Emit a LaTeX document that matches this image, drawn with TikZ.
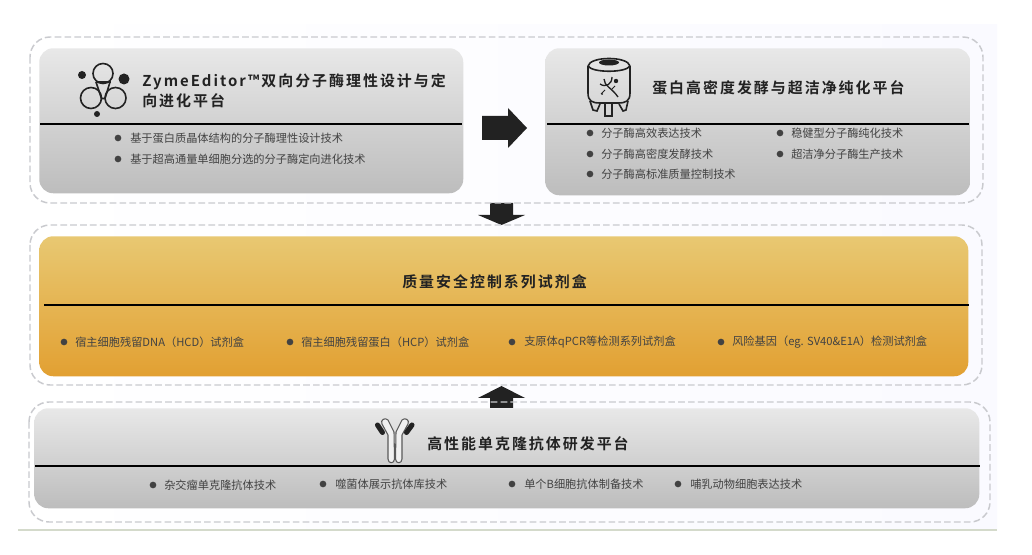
\documentclass[tikz,border=0pt]{standalone}
\usepackage{fontspec}
\setmainfont{Noto Sans CJK SC}
\newfontfamily\titlefont[LetterSpace=13.5]{Noto Sans CJK SC Bold}
\usetikzlibrary{positioning}
\definecolor{ink}{HTML}{222222}
\definecolor{itemink}{HTML}{424242}
\definecolor{dashgray}{HTML}{C9CACE}
\definecolor{gold1}{HTML}{E8C872}
\definecolor{gold2}{HTML}{E2A032}
\definecolor{edgegreen}{HTML}{D4DACB}
\tikzset{
  x=0.75pt,y=-0.75pt,
  panel/.style={rectangle,rounded corners=10.5pt,inner sep=0pt,anchor=north west},
  grayfill/.style={panel,top color=black!9,bottom color=black!26},
  goldfill/.style={panel,top color=gold1,bottom color=gold2},
  dashbox/.style={draw=dashgray,line width=1.1pt,dash pattern=on 5pt off 2.4pt,rounded corners=15pt},
  rule/.style={draw=black,line width=1.3pt},
  title/.style={font=\titlefont\fontsize{11.2pt}{15pt}\selectfont,text=ink,inner sep=0pt,anchor=west,align=left},
  item/.style={font=\fontsize{8.4pt}{10pt}\selectfont,text=itemink,inner sep=0pt,anchor=west},
  dot/.style={circle,fill=itemink,inner sep=0pt,minimum size=5pt},
  iconline/.style={draw=ink,line width=1.2pt},
  blockarrow/.style={fill=ink,draw=none},
  abhalf/.style={draw=black!65,line width=0.8pt,fill=black!6,line join=round},
  abtip/.style={draw=ink,line width=3.8pt,line cap=round},
}
\begin{document}
\begin{tikzpicture}
\useasboundingbox (0,0) rectangle (1032,555);
\fill[white] (0,0) rectangle (1032,555);
\shade[left color=white,right color=black!3!blue!2!white] (18,25) rectangle (997,529);
\fill[edgegreen] (18,529) rectangle (997,531.5);

% block arrows, under the dashed frames
\fill[blockarrow] (482,116) -- (508,116) -- (508,108) -- (527,128) -- (508,148) -- (508,140) -- (482,140) -- cycle;
\fill[blockarrow] (490,203) -- (513,203) -- (513,215) -- (525,215) -- (501.5,225) -- (478,215) -- (490,215) -- cycle;
\fill[blockarrow] (501.5,386) -- (525,398) -- (513,398) -- (513,408) -- (490,408) -- (490,398) -- (478,398) -- cycle;

% dashed frames
\draw[dashbox] (30,37) rectangle (983,203);
\draw[dashbox] (30,225) rectangle (982,385);
\draw[dashbox] (29,402) rectangle (990,522);

% panels
\node[grayfill,minimum width=318pt,minimum height=108.75pt] (pa) at (39,48) {};
\node[grayfill,minimum width=318.75pt,minimum height=110.25pt] (pb) at (545,48) {};
\node[goldfill,minimum width=696.75pt,minimum height=105pt] (pc) at (39,236) {};
\node[grayfill,minimum width=708.75pt,minimum height=75pt] (pd) at (34,408) {};

% rules
\draw[rule] (40,124) -- (462,124);
\draw[rule] (547,124) -- (969,124);
\draw[rule] (44,305) -- (969,305);
\draw[rule] (35,466) -- (980,466);

% icon 1
\begin{scope}[iconline]
\draw (103,73.5) circle[radius=10];
\draw (91,98) circle[radius=10.5];
\draw (115.5,98) circle[radius=10.5];
\draw (95.5,82) -- (110.5,82);
\draw (96,82) -- (101.5,98.5) -- (105,98.5) -- (110,82);
\end{scope}
\fill[ink] (82,75) circle[radius=4];
\fill[ink] (124,79) circle[radius=5.5];
\fill[ink] (97,114) circle[radius=3];

% icon 2
\begin{scope}[iconline]
\draw (588,66) .. controls (590,56) and (628,56) .. (630,66);
\draw (588,66) .. controls (592,73) and (626,73) .. (630,66);
\draw (588,66) -- (588,93) .. controls (588,101) and (592,103) .. (600,103) -- (618,103) .. controls (626,103) and (630,101) .. (630,93) -- (630,66);
\draw (605,104) -- (605,116) -- (612,116) -- (612,104);
\draw (590,101) -- (593,110) -- (597,111) -- (600,104);
\draw (619,104) -- (623,111) -- (626,110) -- (628,101);
\draw[line width=1pt] (604,79) .. controls (604,86) and (612,88) .. (618,97);
\draw[line width=1pt] (600,84) .. controls (606,88) and (612,84) .. (612,77);
\draw[line width=0.7pt] (605,90) -- (601,94);
\draw[line width=0.7pt] (615,86) -- (611,90);
\end{scope}
\fill[ink] (609,62.5) ellipse[x radius=10,y radius=3];
\fill[ink] (616,81) circle[radius=2.2];
\fill[ink] (602,94) circle[radius=1];

% icon 3
\draw[abhalf] (388,459) -- (388,435) -- (382,424)
  .. controls (380,420) and (385,417) .. (388,420) -- (394,432) -- (394.5,459)
  .. controls (394.5,464) and (388,464) .. (388,459) -- cycle;
\draw[abhalf] (402,459) -- (402,435) -- (408,424)
  .. controls (410,420) and (405,417) .. (402,420) -- (396,432) -- (395.5,459)
  .. controls (395.5,464) and (402,464) .. (402,459) -- cycle;
\draw[abtip] (377.5,425) -- (382.5,432.5);
\draw[abtip] (412,425) -- (406.5,432.5);

% titles
\node[title] (ta) at (142,91) {ZymeEditor™双向分子酶理性设计与定\\向进化平台};
\node[title] (tb) at (652,88) {蛋白高密度发酵与超洁净纯化平台};
\node[title] (tc) at (402,282) {质量安全控制系列试剂盒};
\node[title] (td) at (427,444) {高性能单克隆抗体研发平台};

% items: left panel
\node[dot] (a1d) at (118,138) {}; \node[item] (a1) at (130,138) {基于蛋白质晶体结构的分子酶理性设计技术};
\node[dot] (a2d) at (118,159) {}; \node[item] (a2) at (130,159) {基于超高通量单细胞分选的分子酶定向进化技术};

% items: right panel
\node[dot] (b1d) at (590,133) {}; \node[item] (b1) at (601,133) {分子酶高效表达技术};
\node[dot] (b2d) at (590,154) {}; \node[item] (b2) at (601,154) {分子酶高密度发酵技术};
\node[dot] (b3d) at (590,174) {}; \node[item] (b3) at (601,174) {分子酶高标准质量控制技术};
\node[dot] (b4d) at (780,133) {}; \node[item] (b4) at (791,133) {稳健型分子酶纯化技术};
\node[dot] (b5d) at (780,154) {}; \node[item] (b5) at (791,154) {超洁净分子酶生产技术};

% items: gold panel
\node[dot] (c1d) at (64,342) {}; \node[item] (c1) at (75,342) {宿主细胞残留DNA（HCD）试剂盒};
\node[dot] (c2d) at (290,342) {}; \node[item] (c2) at (301,342) {宿主细胞残留蛋白（HCP）试剂盒};
\node[dot] (c3d) at (512,342) {}; \node[item] (c3) at (524,342) {支原体qPCR等检测系列试剂盒};
\node[dot] (c4d) at (721,342) {}; \node[item] (c4) at (732,342) {风险基因（eg. SV40\&E1A）检测试剂盒};

% items: bottom panel
\node[dot] (d1d) at (153,485) {}; \node[item] (d1) at (164,485) {杂交瘤单克隆抗体技术};
\node[dot] (d2d) at (323,484) {}; \node[item] (d2) at (335,484) {噬菌体展示抗体库技术};
\node[dot] (d3d) at (512,484) {}; \node[item] (d3) at (524,484) {单个B细胞抗体制备技术};
\node[dot] (d4d) at (678,484) {}; \node[item] (d4) at (690,484) {哺乳动物细胞表达技术};
\end{tikzpicture}
\end{document}
